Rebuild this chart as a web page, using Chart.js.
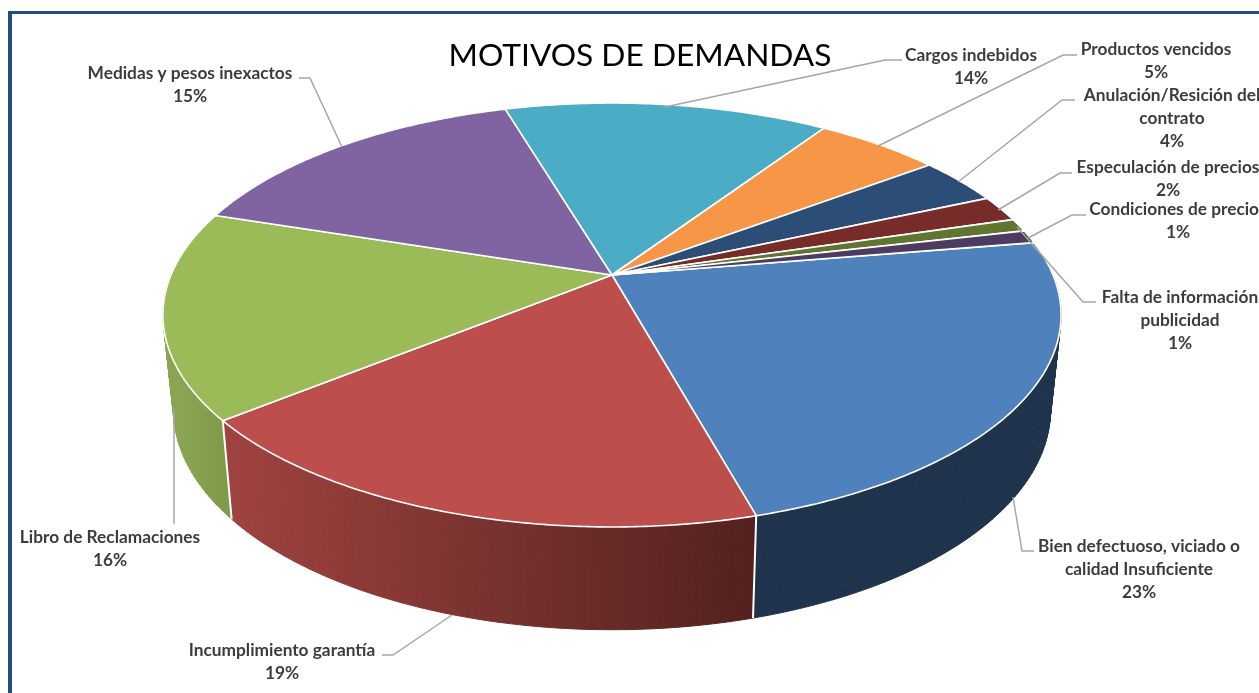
<!DOCTYPE html>
<html lang="es">
<head>
<meta charset="UTF-8"/>
<title>Motivos de demandas</title>
<script src="https://cdn.jsdelivr.net/npm/chart.js"></script>
<style>
    html, body { margin: 0; padding: 0; background: #fff; overflow: hidden; }
    canvas { display: block; }
</style>
<script>
    const categories = [
        ["Bien defectuoso, viciado o", "calidad Insuficiente"],
        ["Incumplimiento garantía"],
        ["Libro de Reclamaciones"],
        ["Medidas y pesos inexactos"],
        ["Cargos indebidos"],
        ["Productos vencidos"],
        ["Anulación/Resición del", "contrato"],
        ["Especulación de precios"],
        ["Condiciones de precios"],
        ["Falta de información", "publicidad"]
    ];
    const values = [23.3, 18.5, 15.8, 15.4, 14.0, 5.4, 3.6, 2.0, 1.0, 1.0];
    const percentLabels = ["23%", "19%", "16%", "15%", "14%", "5%", "4%", "2%", "1%", "1%"];

    const sliceColors = ["#4f81bd", "#bc4e4b", "#9bbb59", "#8064a2", "#4bacc6", "#f79646", "#2c4d75", "#772c2a", "#5f7530", "#4d3b62"];
    // wall shading, left to right, only the slices that face the viewer
    const wallColors = { 0: ["#1f334c", "#1f334c"], 1: ["#a04340", "#52211e"], 2: ["#8aa552", "#7f9a49"] };

    // where each label's first line sits (centre x, middle y)
    const labelX = [1139, 282, 110, 190, 971, 1156, 1172, 1168, 1178, 1180];
    const labelY = [546, 650, 537, 73, 55, 49, 95, 167, 209, 297];
    const leaderLines = [
        [[1034, 551], [1022, 551], [1013, 497]],
        [[382, 655], [393, 655], [452, 615]],
        [[174, 524], [174, 408]],
        [[299, 78], [310, 78], [342, 147]],
        [[902, 60], [885, 60], [665, 107]],
        [[1077, 55], [1063, 55], [878, 146]],
        [[1075, 100], [1062, 100], [958, 182]],
        [[1072, 173], [1060, 173], [998, 210]],
        [[1086, 215], [1072, 215], [1028, 238]],
        [[1096, 302], [1083, 302], [1017, 227]]
    ];

    // perspective of the disc: top face and bottom face
    const topFace = { cx: 612, cy: 275, rx: 441, ry: 204.4, p: 0.1887 };
    const bottomFace = { cx: 612, cy: 368, rx: 430.5, ry: 212, p: 0.19 };
    const WALL_FROM = -5 * Math.PI / 180;
    const WALL_TO = 185 * Math.PI / 180;
    const STEP = Math.PI / 180;

    function project(face, a) {
        const w = 1 - face.p * Math.sin(a);
        return [face.cx + face.rx * Math.cos(a) / w, face.cy + face.ry * Math.sin(a) / w];
    }

    function drawWalls(ctx, arcs) {
        arcs.forEach((arc, i) => {
            if (!wallColors[i]) return;
            const from = Math.max(arc.startAngle, WALL_FROM);
            const to = Math.min(arc.endAngle, WALL_TO);
            const xA = project(topFace, from)[0];
            const xB = project(topFace, to)[0];
            const grad = ctx.createLinearGradient(Math.min(xA, xB), 0, Math.max(xA, xB), 0);
            grad.addColorStop(0, wallColors[i][0]);
            grad.addColorStop(1, wallColors[i][1]);
            ctx.fillStyle = grad;
            ctx.strokeStyle = grad;
            ctx.lineWidth = 1;
            for (let a = from; a < to; a += STEP) {
                const b = Math.min(a + STEP, to);
                const p1 = project(topFace, a), p2 = project(topFace, b);
                const p3 = project(bottomFace, b), p4 = project(bottomFace, a);
                ctx.beginPath();
                ctx.moveTo(p1[0], p1[1]);
                ctx.lineTo(p2[0], p2[1]);
                ctx.lineTo(p3[0], p3[1]);
                ctx.lineTo(p4[0], p4[1]);
                ctx.closePath();
                ctx.fill();
                ctx.stroke();
            }
        });
        // white seams between the visible wall pieces
        ctx.strokeStyle = "#fff";
        ctx.lineWidth = 2;
        arcs.forEach(arc => {
            if (arc.endAngle < WALL_FROM || arc.endAngle > WALL_TO) return;
            const t = project(topFace, arc.endAngle), b = project(bottomFace, arc.endAngle);
            ctx.beginPath();
            ctx.moveTo(t[0], t[1]);
            ctx.lineTo(b[0], b[1]);
            ctx.stroke();
        });
    }

    function drawTop(ctx, arcs) {
        arcs.forEach((arc, i) => {
            ctx.beginPath();
            ctx.moveTo(topFace.cx, topFace.cy);
            for (let a = arc.startAngle; a < arc.endAngle; a += STEP / 2) {
                const p = project(topFace, a);
                ctx.lineTo(p[0], p[1]);
            }
            const last = project(topFace, arc.endAngle);
            ctx.lineTo(last[0], last[1]);
            ctx.closePath();
            ctx.fillStyle = sliceColors[i];
            ctx.fill();
            ctx.strokeStyle = "#fff";
            ctx.lineWidth = 1.6;
            ctx.lineJoin = "round";
            ctx.stroke();
        });
    }

    // the pie's angles come from Chart.js, they just get drawn in perspective
    const tiltedPie = {
        id: "tiltedPie",
        beforeDatasetsDraw(chart) {
            const ctx = chart.ctx;
            const arcs = chart.getDatasetMeta(0).data.map(el => el.getProps(["startAngle", "endAngle"], true));
            ctx.save();
            drawWalls(ctx, arcs);
            drawTop(ctx, arcs);
            ctx.restore();
            return false;
        }
    };

    const annotations = {
        id: "annotations",
        afterDraw(chart) {
            const ctx = chart.ctx;
            ctx.save();
            // frame
            ctx.fillStyle = "#1f4e84";
            ctx.fillRect(8, 11, 1251, 3);
            ctx.fillRect(8, 11, 4, 682);
            // leader lines
            ctx.strokeStyle = "#a6a6a6";
            ctx.lineWidth = 1.5;
            leaderLines.forEach(line => {
                ctx.beginPath();
                line.forEach((pt, i) => i ? ctx.lineTo(pt[0], pt[1]) : ctx.moveTo(pt[0], pt[1]));
                ctx.stroke();
            });
            // title
            ctx.textAlign = "center";
            ctx.textBaseline = "middle";
            ctx.fillStyle = "#000";
            ctx.font = "31.7px Lato";
            ctx.fillText("MOTIVOS DE DEMANDAS", 640, 56);
            // labels
            ctx.fillStyle = "#3c3c3c";
            ctx.font = "bold 17.3px Lato";
            categories.forEach((lines, i) => {
                const rows = lines.concat(percentLabels[i]);
                rows.forEach((row, r) => ctx.fillText(row, labelX[i], labelY[i] + r * 23));
            });
            ctx.restore();
        }
    };

    window.addEventListener("load", function() {
        new Chart(document.getElementById("pieChart"), {
            type: "pie",
            data: {
                labels: categories,
                datasets: [{ data: values, backgroundColor: sliceColors }]
            },
            options: {
                responsive: false,
                animation: false,
                rotation: 80.6,
                plugins: { legend: { display: false }, tooltip: { enabled: false } }
            },
            plugins: [tiltedPie, annotations]
        });
    }, false);
</script>
</head>
<body>
    <canvas id="pieChart" width="1259" height="693"></canvas>
</body>
</html>
